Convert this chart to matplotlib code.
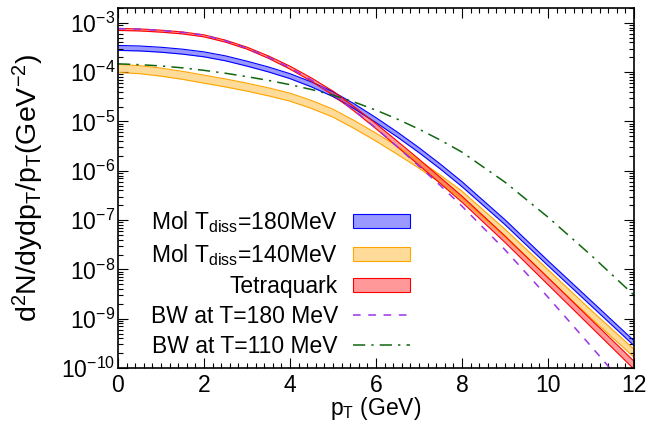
import matplotlib
matplotlib.use("Agg")
import matplotlib.pyplot as plt
from matplotlib.patches import Patch
from matplotlib.lines import Line2D
from matplotlib.ticker import LogLocator, MultipleLocator, NullFormatter

# pT grid (GeV) and spectra, d2N/dydpT/pT (GeV^-2)
pt = [0, 0.5, 1, 1.5, 2, 2.5, 3, 3.5, 4, 4.5, 5, 5.5, 6, 6.5, 7, 7.5, 8,
      9, 10, 11, 12]

# band centres and half widths (in decades)
mol180 = [3.097e-4, 3.025e-4, 2.848e-4, 2.605e-4, 2.297e-4, 1.905e-4, 1.487e-4,
          1.134e-4, 8.296e-5, 5.629e-5, 3.579e-5, 2.016e-5, 1.063e-5, 5.398e-6,
          2.617e-6, 1.211e-6, 5.347e-7, 9.066e-8, 1.336e-8, 2.063e-9, 3.184e-10]
mol180_w = [0.05] * 21

mol140 = [1.189e-4, 1.124e-4, 1.000e-4, 8.611e-5, 7.211e-5, 6.037e-5, 4.963e-5,
          3.984e-5, 3.111e-5, 2.212e-5, 1.474e-5, 8.611e-6, 4.802e-6, 2.581e-6,
          1.361e-6, 6.754e-7, 3.200e-7, 5.423e-8, 8.180e-9, 1.234e-9, 1.996e-10]
mol140_w = [0.081] * 21

tetra = [7.346e-4, 7.178e-4, 6.785e-4, 6.238e-4, 5.448e-4, 4.254e-4, 3.068e-4,
         2.016e-4, 1.234e-4, 7.045e-5, 3.750e-5, 1.776e-5, 8.028e-6, 3.464e-6,
         1.494e-6, 6.297e-7, 2.654e-7, 4.098e-8, 5.762e-9, 8.104e-10, 1.140e-10]
tetra_w = [0.02, 0.02, 0.02, 0.02, 0.02, 0.02, 0.02, 0.024, 0.03, 0.034, 0.041,
           0.045, 0.051, 0.057, 0.061, 0.061, 0.061, 0.065, 0.071, 0.075, 0.081]

bw180 = [7.627e-4, 7.451e-4, 7.011e-4, 6.417e-4, 5.629e-4, 4.314e-4, 3.068e-4,
         1.996e-4, 1.222e-4, 6.882e-5, 3.579e-5, 1.656e-5, 7.312e-6, 3.040e-6,
         1.240e-6, 4.987e-7, 1.914e-7, 2.498e-8, 2.730e-9, 2.768e-10, 2.679e-11]
bw110 = [1.474e-4, 1.419e-4, 1.336e-4, 1.222e-4, 1.088e-4, 9.499e-5, 8.104e-5,
         6.785e-5, 5.578e-5, 4.437e-5, 3.416e-5, 2.463e-5, 1.695e-5, 1.113e-5,
         6.979e-6, 4.175e-6, 2.384e-6, 5.872e-7, 1.145e-7, 1.941e-8, 2.997e-9]

labels = [r"Mol T$_{\mathrm{diss}}$=180MeV", r"Mol T$_{\mathrm{diss}}$=140MeV",
          "Tetraquark", "BW at T=180 MeV", "BW at T=110 MeV"]

plt.rcParams["font.family"] = "Liberation Sans"
plt.rcParams["mathtext.fontset"] = "custom"
plt.rcParams["mathtext.rm"] = "Liberation Sans"
plt.rcParams["mathtext.it"] = "Liberation Sans:italic"
plt.rcParams["mathtext.bf"] = "Liberation Sans:bold"

fig = plt.figure(figsize=(6.64, 4.26), dpi=100)
ax = fig.add_axes([118 / 664, 1 - 368 / 426, 516 / 664, 360 / 426])

blue = (0, 0, 1)
orange = (1, 0.647, 0)
red = (1, 0, 0)
purple = "#9a32e6"
green = "#116611"

for c, w, col in [(mol180, mol180_w, blue), (mol140, mol140_w, orange),
                  (tetra, tetra_w, red)]:
    lo = [v / 10 ** d for v, d in zip(c, w)]
    hi = [v * 10 ** d for v, d in zip(c, w)]
    ax.fill_between(pt, lo, hi, color=col, alpha=0.4, lw=0)
    ax.plot(pt, lo, color=col, lw=0.8)
    ax.plot(pt, hi, color=col, lw=0.8)

ax.plot(pt, bw180, color=purple, lw=1.1, dashes=(5, 5))
ax.plot(pt, bw110, color=green, lw=1.1, dashes=(8, 4, 1.5, 4))

ax.set_yscale("log")
ax.set_xlim(0, 12)
ax.set_ylim(1e-10, 2e-3)

ax.xaxis.set_major_locator(MultipleLocator(2))
ax.xaxis.set_minor_locator(MultipleLocator(0.2))
ax.xaxis.set_minor_formatter(NullFormatter())
ax.yaxis.set_major_locator(LogLocator(base=10, numticks=20))
ax.yaxis.set_minor_locator(LogLocator(base=10, subs=range(2, 10), numticks=20))
ax.yaxis.set_minor_formatter(NullFormatter())
ax.tick_params(which="both", direction="in", top=True, right=True,
               width=0.8, labelsize=16.5)
ax.tick_params(which="major", length=7.5)
ax.tick_params(which="minor", length=3.8)
ax.tick_params(axis="x", pad=4)
ax.tick_params(axis="y", pad=2)
for s in ax.spines.values():
    s.set_linewidth(1.2)

ax.set_xlabel(r"p$_{\mathrm{T}}$ (GeV)", fontsize=16.5)
ax.xaxis.set_label_coords(0.5, -0.075)
ax.set_ylabel(r"d$^{2}$N/dydp$_{\mathrm{T}}$/p$_{\mathrm{T}}$(GeV$^{-2}$)",
              fontsize=20.5)
ax.yaxis.set_label_coords(-0.14, 0.5)

handles = [
    Patch(facecolor=blue + (0.4,), edgecolor=blue, lw=0.8),
    Patch(facecolor=orange + (0.4,), edgecolor=orange, lw=0.8),
    Patch(facecolor=red + (0.4,), edgecolor=red, lw=0.8),
    Line2D([], [], color=purple, lw=1.1, dashes=(5, 5)),
    Line2D([], [], color=green, lw=1.1, dashes=(8, 4, 1.5, 4)),
]
ax.legend(handles, labels, loc="lower right", bbox_to_anchor=(0.566, 0.028),
          markerfirst=False, frameon=False, fontsize=16.5, handlelength=2.5,
          handleheight=0.55, handletextpad=0.65, labelspacing=0.31,
          borderpad=0, borderaxespad=0)

fig.savefig("out.png", dpi=100)
